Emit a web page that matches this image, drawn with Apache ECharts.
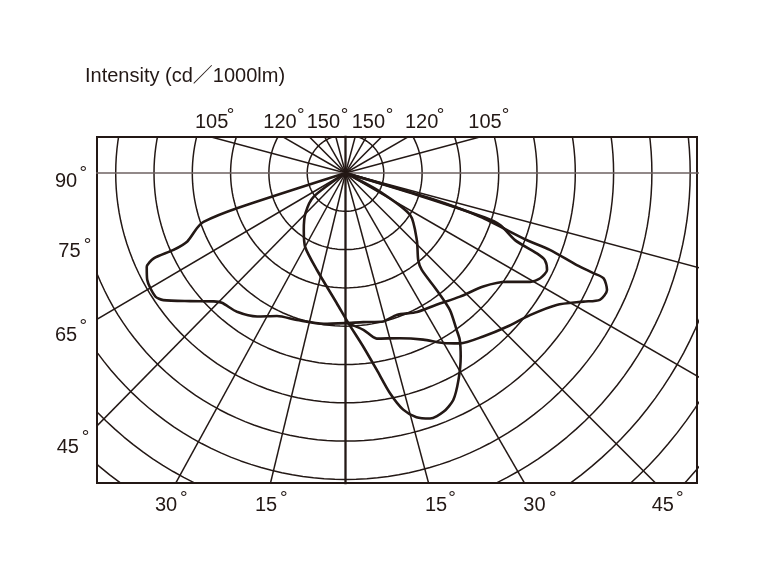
<!DOCTYPE html>
<html>
<head>
<meta charset="utf-8">
<script src="https://cdn.jsdelivr.net/npm/echarts@6/dist/echarts.min.js"></script>
<style>
html,body{margin:0;padding:0;background:#fff;}
#chart{width:760px;height:569px;}
</style>
</head>
<body>
<div id="chart"></div>
<script>
// ---- data (polar: gamma in degrees from nadir, intensity in cd/1000lm) ----
const gammaA = [-90,-72,-71,-69.6,-66.6,-65.9,-66,-64.7,-61.7,-57,-55.1,-50.5,-45.7,-43.6,-38,-31.6,-25.6,-18.3,-8.2,0,6.8,14.3,19.8,27.2,34.6,42.8,50.5,56,59.5,61.6,64.3,66.4,67.2,68.4,71.4,72.3,73,90];
const intensityA = [0,149,196,207,225,246,274,287,294,296,290,263,240,234,230,220,207,202,199,196,196,200,197,204,209,220,233,254,280,289,292,284,271,238,213,191,98,0];

const gammaB = [0,6.5,10.7,18.2,25,29.9,33.9,40.1,46.4,52.4,58,61.6,63.5,65.9,67.8,68,68.3,69.4,69.7,72,73.3,90];
const intensityB = [195,206,220,227,240,256,268,279,291,304,325,353,371,374,364,349,325,285,252,185,115,0];

const gammaC = [-90,-53.3,-44.9,-36.3,-28.6,-16.4,-3.7,1.1,5.85,9,11.4,13.7,16.2,19,22.3,25.4,28.6,32.1,34.4,35.3,37.3,37.9,38.2,39.9,46.7,56.9,61.5,90];
const intensityC = [0,52,74,92,110,132,171,196,228,260,293,318,332,339,337,328,308,283,264,251,225,194,161,148,128,101,51,0];

// grid structure
const ringValues = [50,100,150,200,250,300,350,400,450,500,550,600];
const radialAngles = [15,30,45,60,75,105,120,135,150,165,-13.6,-28.7,-44.5,-59.5,-105,-120,-135,-150,-165];

// tick labels
const titleText = 'Intensity (cd／1000lm)';
const topLabels = ['105','120','150','150','120','105'];
const leftLabels = ['90','75','65','45'];
const bottomLabels = ['30','15','15','30','45'];

// ---- layout ----
const G = {left:97, top:137, width:600, height:346};
const CX = 345.5, CY = 173;           // pole position in pixels
const PXU = 0.766;                    // pixels per cd/1000lm
const xMin = -(CX - G.left) / PXU, xMax = (G.left + G.width - CX) / PXU;
const yMax = (CY - G.top) / PXU, yMin = -(G.top + G.height - CY) / PXU;

const INK = '#231815';
const FONT = "'Liberation Sans', Arial, 'Noto Sans CJK SC', sans-serif";

function toXY(g, r){
  const a = g * Math.PI / 180;
  return [r * Math.sin(a), -r * Math.cos(a)];
}

const series = [];
function lineSeries(data, width, color, z, smooth){
  series.push({
    type:'line', data:data, showSymbol:false, symbol:'none', silent:true,
    clip:true, smooth: smooth || false, z: z,
    lineStyle:{color:color, width:width}, animation:false
  });
}
// rings
ringValues.forEach(function(v){
  const pts = [];
  for (let d = 0; d <= 360; d += 2) pts.push(toXY(d, v));
  lineSeries(pts, 1.5, INK, 2);
});
// radial lines
radialAngles.forEach(function(g){
  lineSeries([[0,0], toXY(g, 900)], 1.5, INK, 2);
});
// horizontal and vertical axes of the diagram
lineSeries([toXY(-90, 900), toXY(90, 900)], 1.5, '#6e6262', 2);
lineSeries([toXY(180, 900), toXY(0, 900)], 2.3, INK, 3);
// curves
function curve(gs, is){ return gs.map(function(g, i){ return toXY(g, is[i]); }); }
lineSeries(curve(gammaA, intensityA), 2.6, INK, 5, 0.25);
lineSeries(curve(gammaB, intensityB), 2.6, INK, 5, 0.25);
lineSeries(curve(gammaC, intensityC), 2.6, INK, 5, 0.25);

// ---- text ----
const graphics = [];
function txt(s, x, y, size, align){
  graphics.push({type:'text', x:x, y:y, silent:true, z:10, style:{
    text:s, fill:INK, fontSize:size, fontFamily:FONT,
    font: size + 'px ' + FONT,
    align:align||'left', textAlign:align||'left',
    verticalAlign:'middle', textVerticalAlign:'middle'
  }});
}
function deg(x, y){ txt('°', x, y + 4, 19, 'center'); }

txt(titleText, 85, 76, 20);
const topX = [195, 263.3, 306.7, 351.7, 405, 468.3];
const topDeg = [230.5, 300.8, 344.5, 389.5, 440.5, 505.5];
topLabels.forEach(function(s, i){ txt(s, topX[i], 122.5, 20); deg(topDeg[i], 112.2); });
const leftX = [55, 58.3, 55, 56.7], leftY = [181.7, 251.7, 335, 447.5];
const leftDegX = [83.2, 87.5, 83.2, 85.5], leftDegY = [169.5, 241.5, 322.8, 434.2];
leftLabels.forEach(function(s, i){ txt(s, leftX[i], leftY[i], 20); deg(leftDegX[i], leftDegY[i]); });
const botX = [155, 255, 425, 523.3, 651.7];
const botDeg = [183.8, 283.7, 452, 552.7, 679.8];
bottomLabels.forEach(function(s, i){ txt(s, botX[i], 505.8, 20); deg(botDeg[i], 494.7); });

const chart = echarts.init(document.getElementById('chart'), null, {renderer:'canvas'});
chart.setOption({
  animation:false,
  backgroundColor:'#ffffff',
  grid:{left:G.left, top:G.top, width:G.width, height:G.height, show:true,
        borderColor:INK, borderWidth:2, backgroundColor:'transparent', containLabel:false},
  xAxis:{type:'value', min:xMin, max:xMax, show:false, scale:true},
  yAxis:{type:'value', min:yMin, max:yMax, show:false, scale:true},
  series:series,
  graphic:graphics
});
</script>
</body>
</html>
